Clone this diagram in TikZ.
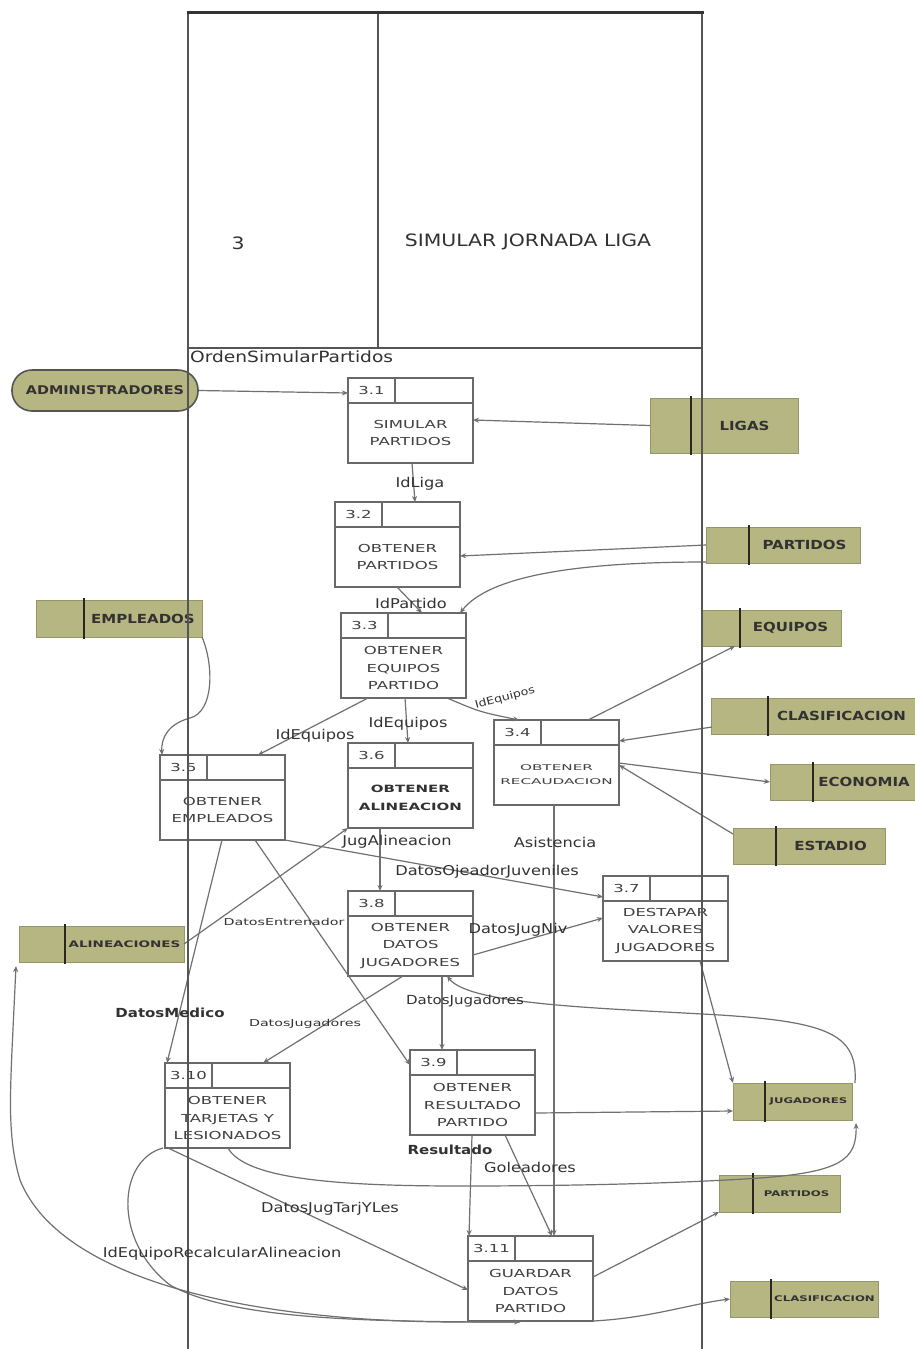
\documentclass[tikz,border=0pt]{standalone}
\usepackage{fontspec}
\setmainfont{DejaVu Sans}[FakeStretch=1.2]
\newfontfamily\wfont{DejaVu Sans}[FakeStretch=1.5]
\newfontfamily\wwfont{DejaVu Sans}[FakeStretch=1.9]
\usetikzlibrary{arrows.meta,calc}

\definecolor{olivef}{RGB}{182,182,130}
\definecolor{oliveb}{RGB}{150,150,105}
\definecolor{divc}{RGB}{40,40,30}
\definecolor{linec}{RGB}{112,112,112}
\definecolor{boxc}{RGB}{105,105,105}
\definecolor{framec}{RGB}{85,85,85}
\definecolor{txtc}{RGB}{50,50,50}
\definecolor{ptext}{RGB}{65,65,65}

\tikzset{
  flow/.style={draw=linec, line width=1.2pt, -{Stealth[length=6pt,width=5pt]}},
  procbox/.style={draw=boxc, line width=1.5pt, minimum width=125pt, minimum height=85pt,
                  inner sep=0pt, outer sep=0pt},
  procline/.style={draw=boxc, line width=1.5pt},
  pnum/.style={font=\wfont\fontsize{11}{13}\selectfont, text=ptext, inner sep=0pt},
  ptxt/.style={font=\wfont\fontsize{11}{17.5}\selectfont, text=ptext, align=center, inner sep=0pt},
  ptxtsmall/.style={font=\wwfont\fontsize{8}{14}\selectfont, text=ptext, align=center, inner sep=0pt},
  ptxtbold/.style={font=\wfont\bfseries\fontsize{10}{17.5}\selectfont, text=txtc, align=center, inner sep=0pt},
  storebox/.style={draw=oliveb, line width=0.6pt, fill=olivef, inner sep=0pt, outer sep=0pt},
  storediv/.style={draw=divc, line width=1.6pt},
  stlabel/.style={font=\bfseries\fontsize{12.5}{14}\selectfont, text=txtc, inner sep=0pt},
  stsmall/.style={font=\wfont\bfseries\fontsize{7.8}{9}\selectfont, text=txtc, inner sep=0pt},
  stmid/.style={font=\wfont\bfseries\fontsize{9}{10}\selectfont, text=txtc, inner sep=0pt},
  lbl/.style={font=\fontsize{13.5}{15}\selectfont, text=txtc, inner sep=0pt},
  lblb/.style={font=\bfseries\fontsize{12.5}{15}\selectfont, text=txtc, inner sep=0pt},
  lblsmall/.style={font=\wfont\fontsize{9.5}{11}\selectfont, text=txtc, inner sep=0pt},
  frame/.style={draw=framec, line width=1.5pt},
}

% data store: name, x1, y1, x2, y2, divider x, label, label style
\newcommand\dstore[8]{%
  \pgfmathsetmacro\stW{#4-#2}%
  \pgfmathsetmacro\stH{#5-#3}%
  \pgfmathsetmacro\stD{#6-#2}%
  \pgfmathsetmacro\stX{(#6+#4)/2}%
  \pgfmathsetmacro\stY{(#3+#5)/2}%
  \node[storebox, minimum width=\stW pt, minimum height=\stH pt, anchor=north west] (#1) at (#2,#3) {};
  \draw[storediv] ($(#1.north west)+(\stD,-2)$) -- ($(#1.south west)+(\stD,2)$);
  \node[#8] (#1-t) at (\stX,\stY) {#7};
}

% process box: name, x, y (top left), number, text, text style
\newcommand\dproc[6]{%
  \node[procbox, anchor=north west] (#1) at (#2,#3) {};
  \draw[procline] ($(#1.north west)+(0,25)$) -- ($(#1.north east)+(0,25)$);
  \draw[procline] ($(#1.north west)+(47,0)$) -- ($(#1.north west)+(47,25)$);
  \node[pnum] (#1-n) at ($(#1.north west)+(23.5,12.5)$) {#4};
  \node[#6] (#1-t) at ($(#1.north)+(0,55)$) {#5};
}

\begin{document}
\begin{tikzpicture}[x=1pt,y=-1pt]
  \useasboundingbox[fill=white] (0,0) rectangle (915,1349);

  % ---------- external entity ----------
  \node[draw=framec, line width=1.6pt, fill=olivef, rounded corners=20pt,
        minimum width=186pt, minimum height=41pt, inner sep=0pt,
        font=\bfseries\fontsize{12}{14}\selectfont, text=txtc] (adm) at (105,390.5) {ADMINISTRADORES};

  % ---------- data stores ----------
  \dstore{sLigas}{650}{398}{798}{453}{691}{LIGAS}{stlabel}
  \dstore{sPartA}{706}{527}{860}{563}{749}{PARTIDOS}{stlabel}
  \dstore{sEmp}{36}{600}{202}{637}{84}{EMPLEADOS}{stlabel}
  \dstore{sEq}{702}{610}{841}{646}{740}{EQUIPOS}{stlabel}
  \dstore{sClasA}{711}{698}{915}{734}{768}{CLASIFICACION}{stlabel}
  \dstore{sEco}{770}{764}{915}{800}{813}{ECONOMIA}{stlabel}
  \dstore{sEst}{733}{828}{885}{864}{776}{ESTADIO}{stlabel}
  \dstore{sAli}{19}{926}{184}{962}{65}{ALINEACIONES}{stmid}
  \dstore{sJug}{733}{1083}{852}{1120}{765}{JUGADORES}{stsmall}
  \dstore{sPartB}{719}{1175}{840}{1212}{753}{PARTIDOS}{stsmall}
  \dstore{sClasB}{730}{1281}{878}{1317}{771}{CLASIFICACION}{stsmall}

  % ---------- processes ----------
  \dproc{p31}{348}{378}{3.1}{SIMULAR\\PARTIDOS}{ptxt}
  \dproc{p32}{335}{502}{3.2}{OBTENER\\PARTIDOS}{ptxt}
  \dproc{p33}{341}{613}{3.3}{OBTENER\\EQUIPOS\\PARTIDO}{ptxt}
  \dproc{p34}{494}{720}{3.4}{OBTENER\\RECAUDACION}{ptxtsmall}
  \dproc{p35}{160}{755}{3.5}{OBTENER\\EMPLEADOS}{ptxt}
  \dproc{p36}{348}{743}{3.6}{OBTENER\\ALINEACION}{ptxtbold}
  \dproc{p37}{603}{876}{3.7}{DESTAPAR\\VALORES\\JUGADORES}{ptxt}
  \dproc{p38}{348}{891}{3.8}{OBTENER\\DATOS\\JUGADORES}{ptxt}
  \dproc{p39}{410}{1050}{3.9}{OBTENER\\RESULTADO\\PARTIDO}{ptxt}
  \dproc{p310}{165}{1063}{3.10}{OBTENER\\TARJETAS Y\\LESIONADOS}{ptxt}
  \dproc{p311}{468}{1236}{3.11}{GUARDAR\\DATOS\\PARTIDO}{ptxt}

  % ---------- data flows ----------
  \draw[flow] (adm.east) -- ($(p31.north west)+(0,15)$);
  \draw[flow] (sLigas.west) -- ($(p31.north east)+(0,42)$);
  \draw[flow] ($(p31.south west)+(64,0)$) -- ($(p32.north west)+(80,0)$);
  \draw[flow] (sPartA.west) -- ($(p32.north east)+(0,54)$);
  \draw[flow] ($(sPartA.south west)+(0,-1)$) .. controls (580,562) and (490,575) .. ($(p33.north east)+(-6,0)$);
  \draw[flow] ($(p32.south west)+(62,0)$) -- ($(p33.north west)+(81,0)$);
  \draw[flow] (sEmp.south east) .. controls (214,665) and (214,712) .. (190,718)
              .. controls (168,724) and (161,738) .. ($(p35.north west)+(2,0)$);
  \draw[flow] ($(p33.south west)+(27,0)$) -- ($(p35.north west)+(98,0)$);
  \draw[flow] ($(p33.south west)+(64,0)$) -- ($(p36.north west)+(60,0)$);
  \draw[flow] ($(p33.south west)+(106,0)$) .. controls (480,712) .. ($(p34.north west)+(25,0)$);
  \draw[flow] ($(p34.north west)+(94,0)$) -- ($(sEq.south west)+(33,0)$);
  \draw[flow] ($(sClasA.south west)+(1,-7)$) -- ($(p34.north east)+(0,21)$);
  \draw[flow] ($(p34.north east)+(0,43)$) -- (sEco.west);
  \draw[flow] ($(sEst.north west)+(0,6)$) -- ($(p34.north east)+(0,45)$);
  \draw[flow] ($(p34.south west)+(60,0)$) -- ($(p311.north west)+(86,0)$);
  \draw[flow] (p35.south east) -- ($(p37.north west)+(0,21)$);
  \draw[flow] (sAli.east) -- (p36.south west);
  \draw[flow] ($(p35.south west)+(95,0)$) -- ($(p39.north west)+(0,15)$);
  \draw[flow] ($(p35.south west)+(62,0)$) -- ($(p310.north west)+(2,0)$);
  \draw[flow] ($(p36.south west)+(32,0)$) -- ($(p38.north west)+(32,0)$);
  \draw[flow] ($(p38.north east)+(0,64)$) -- ($(p37.north west)+(0,42)$);
  \draw[flow] ($(p38.south west)+(94,0)$) -- ($(p39.north west)+(32,0)$);
  \draw[flow] ($(p38.south west)+(55,0)$) -- ($(p310.north west)+(98,0)$);
  \draw[flow] ($(sJug.north east)+(3,0)$) .. controls (858,1035) and (830,1022) .. (720,1015)
              .. controls (600,1008) and (470,1005) .. ($(p38.south west)+(99,0)$);
  \draw[flow] ($(p37.south west)+(97,0)$) -- (sJug.north west);
  \draw[flow] ($(p39.north east)+(0,63)$) -- ($(sJug.south west)+(0,-9)$);
  \draw[flow] ($(p39.south west)+(62,0)$) -- ($(p311.north west)+(1,0)$);
  \draw[flow] ($(p39.south west)+(95,0)$) -- ($(p311.north west)+(84,0)$);
  \draw[flow] ($(p310.south west)+(63,0)$) .. controls (245,1178) and (330,1186) .. (460,1186)
              .. controls (600,1186) and (700,1182) .. (760,1178)
              .. controls (840,1172) and (857,1160) .. ($(sJug.south east)+(4,3)$);
  \draw[flow] ($(p310.south west)+(3,0)$) -- ($(p311.north west)+(0,54)$);
  \draw[flow] ($(p310.south west)+(-2,0)$) .. controls (118,1160) and (112,1240) .. (170,1285)
              .. controls (230,1318) and (350,1322) .. ($(p311.south west)+(52,1)$);
  \draw[flow] ($(p311.south west)+(52,1)$) -- (460,1322) .. controls (250,1322) and (60,1280) .. (20,1180)
              .. controls (8,1140) and (10,1100) .. (12,1050) -- ($(sAli.south west)+(-3,4)$);
  \draw[flow] ($(p311.north east)+(0,41)$) -- (sPartB.south west);
  \draw[flow] (p311.south east) .. controls (650,1318) and (690,1304) .. (sClasB.west);

  % ---------- frame of the level-3 diagram ----------
  \draw[frame] (188,12) -- (188,1349);
  \draw[frame] (702,12) -- (702,1349);
  \draw[frame] (378,12) -- (378,348);
  \draw[draw=framec, line width=2pt] (188,348) -- (702,348);
  \draw[draw=black!80, line width=3pt] (186.5,12) -- (703.5,12);
  \node[font=\fontsize{17}{19}\selectfont, text=txtc] (tnum) at (238,243) {3};
  \node[font=\fontsize{17}{19}\selectfont, text=txtc] (ttitle) at (528,242) {SIMULAR JORNADA LIGA};

  % ---------- flow labels ----------
  \node[lbl, anchor=west, font=\fontsize{15.5}{17}\selectfont] (lOrden) at (190,357) {OrdenSimularPartidos};
  \node[lbl] (lIdLiga) at (420,484) {IdLiga};
  \node[lbl] (lIdPartido) at (411,603) {IdPartido};
  \node[lbl] (lEqA) at (315,736) {IdEquipos};
  \node[lbl] (lEqB) at (408,724) {IdEquipos};
  \node[lbl, rotate=15, font=\fontsize{10.5}{12}\selectfont] (lEqC) at (505,698) {IdEquipos};
  \node[lbl] (lJugAli) at (397,842) {JugAlineacion};
  \node[lbl] (lAsis) at (555,842) {Asistencia};
  \node[lbl] (lOjeador) at (487,872) {DatosOjeadorJuveniles};
  \node[lblsmall] (lEntren) at (284,922) {DatosEntrenador};
  \node[lbl] (lJugNiv) at (518,930) {DatosJugNiv};
  \node[lbl, font=\fontsize{12.5}{14}\selectfont] (lJugA) at (465,1001) {DatosJugadores};
  \node[lblb] (lMedico) at (170,1013) {DatosMedico};
  \node[lblsmall] (lJugB) at (305,1024) {DatosJugadores};
  \node[lblb] (lResult) at (450,1150) {Resultado};
  \node[lbl] (lGol) at (530,1167) {Goleadores};
  \node[lbl] (lTarj) at (330,1209) {DatosJugTarjYLes};
  \node[lbl] (lRecalc) at (222,1254) {IdEquipoRecalcularAlineacion};
\end{tikzpicture}
\end{document}
